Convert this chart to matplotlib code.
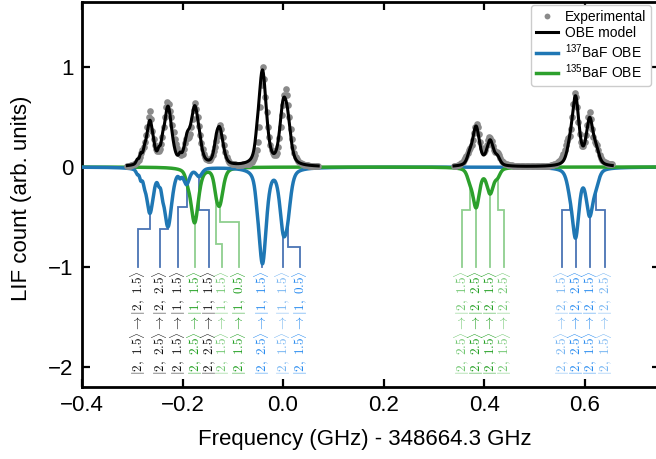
import numpy as np
import matplotlib
matplotlib.use("Agg")
import matplotlib.pyplot as plt
from matplotlib.lines import Line2D

plt.rcParams["font.family"] = ["Liberation Sans", "DejaVu Sans"]
plt.rcParams["mathtext.fontset"] = "custom"
plt.rcParams["mathtext.rm"] = "Liberation Sans"
plt.rcParams["mathtext.it"] = "Liberation Sans:italic"
plt.rcParams["mathtext.bf"] = "Liberation Sans:bold"

# ---------------------------------------------------------------------------
# Hyperfine transitions used in the OBE model (GHz offset, peak height, HWHM)
# ---------------------------------------------------------------------------
ba137_freq = [-0.290, -0.283, -0.276, -0.265, -0.247, -0.240, -0.229, -0.205,
              -0.192, -0.167, -0.052, -0.041, 0.000, 0.009,
              0.570, 0.582, 0.610, 0.623]
ba137_height = [0.04, 0.08, 0.06, 0.44, 0.07, 0.08, 0.58, 0.05,
                0.15, 0.08, 0.06, 0.95, 0.50, 0.35,
                0.12, 0.67, 0.45, 0.12]
ba137_hwhm = [0.003, 0.003, 0.003, 0.008, 0.003, 0.003, 0.009, 0.003,
              0.007, 0.007, 0.004, 0.009, 0.008, 0.008,
              0.007, 0.008, 0.008, 0.007]

ba135_freq = [-0.190, -0.176, -0.133, -0.126, 0.371, 0.384, 0.412, 0.427]
ba135_height = [0.06, 0.55, 0.10, 0.35, 0.08, 0.39, 0.25, 0.07]
ba135_hwhm = [0.005, 0.009, 0.005, 0.008, 0.006, 0.008, 0.008, 0.006]

# Frequency windows covered by the scans
scan_windows = [(-0.31, 0.07), (0.34, 0.655)]

# Measured LIF signal, two scans in 2.5 MHz steps
exp_freq_left = np.linspace(-0.310, 0.070, 153)
exp_signal_left = [
    0.01, 0.012, 0.015, 0.018, 0.02, 0.027, 0.035, 0.042, 0.05, 0.07,
    0.10, 0.14, 0.17, 0.20, 0.25, 0.32, 0.40, 0.50, 0.56, 0.48,
    0.36, 0.28, 0.22, 0.18, 0.16, 0.16, 0.18, 0.23, 0.30, 0.40,
    0.50, 0.60, 0.65, 0.63, 0.56, 0.50, 0.42, 0.35, 0.28, 0.23,
    0.19, 0.15, 0.13, 0.12, 0.13, 0.18, 0.24, 0.28, 0.29, 0.30,
    0.33, 0.40, 0.48, 0.57, 0.64, 0.58, 0.50, 0.41, 0.32, 0.24,
    0.18, 0.13, 0.10, 0.08, 0.07, 0.07, 0.07, 0.09, 0.12, 0.16,
    0.20, 0.26, 0.31, 0.37, 0.42, 0.38, 0.30, 0.22, 0.15, 0.10,
    0.07, 0.05, 0.04, 0.035, 0.03, 0.03, 0.03, 0.025, 0.025, 0.025,
    0.025, 0.025, 0.03, 0.03, 0.03, 0.03, 0.035, 0.035, 0.04, 0.05,
    0.07, 0.09, 0.12, 0.17, 0.25, 0.40, 0.60, 0.82, 1.00, 0.88,
    0.70, 0.55, 0.40, 0.30, 0.22, 0.17, 0.14, 0.12, 0.12, 0.14,
    0.20, 0.29, 0.40, 0.52, 0.62, 0.72, 0.78, 0.72, 0.62, 0.50,
    0.38, 0.28, 0.20, 0.14, 0.10, 0.08, 0.06, 0.05, 0.04, 0.035,
    0.03, 0.025, 0.02, 0.02, 0.02, 0.015, 0.015, 0.012, 0.01, 0.01,
    0.01, 0.01, 0.01,
]
exp_freq_right = np.linspace(0.340, 0.655, 127)
exp_signal_right = [
    0.01, 0.012, 0.015, 0.018, 0.02, 0.03, 0.04, 0.055, 0.07, 0.09,
    0.11, 0.14, 0.17, 0.19, 0.22, 0.27, 0.34, 0.40, 0.43, 0.40,
    0.33, 0.25, 0.19, 0.16, 0.15, 0.17, 0.22, 0.27, 0.30, 0.29,
    0.26, 0.21, 0.17, 0.15, 0.15, 0.14, 0.12, 0.09, 0.06, 0.05,
    0.04, 0.035, 0.03, 0.025, 0.02, 0.02, 0.02, 0.015, 0.015, 0.015,
    0.015, 0.015, 0.01, 0.01, 0.01, 0.01, 0.01, 0.01, 0.01, 0.01,
    0.01, 0.01, 0.01, 0.01, 0.01, 0.01, 0.01, 0.01, 0.01, 0.01,
    0.01, 0.01, 0.01, 0.012, 0.015, 0.015, 0.015, 0.018, 0.02, 0.025,
    0.03, 0.035, 0.04, 0.05, 0.06, 0.08, 0.10, 0.13, 0.17, 0.22,
    0.26, 0.29, 0.31, 0.38, 0.50, 0.63, 0.74, 0.70, 0.60, 0.45,
    0.33, 0.25, 0.21, 0.21, 0.25, 0.32, 0.42, 0.50, 0.55, 0.48,
    0.38, 0.30, 0.25, 0.23, 0.22, 0.17, 0.12, 0.09, 0.07, 0.06,
    0.05, 0.045, 0.04, 0.035, 0.03, 0.03, 0.03,
]

# Transition labels: text position, transition it points to, elbow height
label_freq = [-0.289, -0.244, -0.209, -0.176, -0.148, -0.121, -0.088, -0.041,
              0.000, 0.033, 0.356, 0.384, 0.412, 0.440, 0.555, 0.582, 0.611, 0.641]
line_freq = [-0.265, -0.229, -0.192, -0.176, -0.167, -0.133, -0.126, -0.041,
             0.000, 0.009, 0.371, 0.384, 0.412, 0.427, 0.570, 0.582, 0.610, 0.623]
elbow_y = [-0.62, -0.62, -0.40, None, -0.43, -0.77, -0.55, None,
           None, -0.80, -0.43, None, None, -0.43, -0.43, None, None, -0.43]
isotope = [137, 137, 137, 135, 137, 135, 135, 137,
           137, 137, 135, 135, 135, 135, 137, 137, 137, 137]
lower_state = [(2, 1.5), (2, 2.5), (2, 1.5), (2, 2.5), (2, 2.5), (2, 1.5), (2, 1.5), (2, 2.5),
               (2, 1.5), (2, 1.5), (2, 2.5), (2, 2.5), (2, 1.5), (2, 1.5),
               (2, 2.5), (2, 2.5), (2, 1.5), (2, 1.5)]
upper_state = [(2, 1.5), (2, 2.5), (1, 1.5), (1, 1.5), (1, 1.5), (1, 1.5), (1, 0.5), (1, 1.5),
               (1, 1.5), (1, 0.5), (2, 1.5), (2, 2.5), (2, 1.5), (2, 2.5),
               (2, 1.5), (2, 2.5), (2, 1.5), (2, 2.5)]
label_style = ["k", "k", "k", "g", "k", "lg", "g", "b",
               "lb", "b", "lg", "g", "g", "lg", "lb", "b", "b", "lb"]

styles = {
    "k": ("#111111", True),
    "g": ("#22a022", True),
    "lg": ("#74c874", False),
    "b": ("#2a8cf0", True),
    "lb": ("#78b6f2", False),
}
connector_color = {137: "#4a74b4", 135: "#8fcf8f"}

C137 = "#1f77b4"
C135 = "#2ca02c"
GREY = "#8a8a8a"

# ---------------------------------------------------------------------------
freq = np.linspace(-0.4, 0.75, 4601)


def spectrum(centers, heights, widths):
    total = np.zeros_like(freq)
    for f0, h, w in zip(centers, heights, widths):
        u = (freq - f0) / w
        total += h * (0.5 / (1 + u ** 2) + 0.5 * np.exp(-np.log(2) * u ** 2))
    return total


sig137 = spectrum(ba137_freq, ba137_height, ba137_hwhm)
sig135 = spectrum(ba135_freq, ba135_height, ba135_hwhm)
model = sig137 + sig135

fig = plt.figure(figsize=(6.56, 4.59), dpi=100)
ax = fig.add_axes([82 / 656, 72 / 459, 578 / 656, 385 / 459])

# experimental points and full model
for fx, sy in ((exp_freq_left, exp_signal_left), (exp_freq_right, exp_signal_right)):
    ax.plot(fx, sy, "o", color=GREY, ms=4.8, mec="none", zorder=4)
for lo, hi in scan_windows:
    m = (freq >= lo) & (freq <= hi)
    ax.plot(freq[m], model[m], color="k", lw=2.2, zorder=5)

# isotopologue contributions, drawn downwards
split = 0.062
left = freq <= split
right = freq >= split
ax.plot(freq[right], -sig137[right], color=C137, lw=2.5, zorder=2)
ax.plot(freq, -sig135, color=C135, lw=2.5, zorder=3)
ax.plot(freq[left], -sig137[left], color=C137, lw=2.5, zorder=3.5)

# transition assignments
conn_end = -1.0
label_top = -1.03
for lf, tf, ey, iso, lo_s, up_s, st in zip(label_freq, line_freq, elbow_y, isotope,
                                           lower_state, upper_state, label_style):
    curve = sig137 if iso == 137 else sig135
    y0 = -np.interp(tf, freq, curve)
    if ey is None:
        xs, ys = [tf, tf], [y0, conn_end]
    else:
        xs, ys = [tf, tf, lf, lf], [y0, ey, ey, conn_end]
    ax.plot(xs, ys, color=connector_color[iso], lw=1.3, zorder=1.5,
            solid_joinstyle="miter")

    color, bold = styles[st]
    ket_lo = rf"|{lo_s[0]},\ {lo_s[1]}\rangle"
    ket_up = rf"|{up_s[0]},\ {up_s[1]}\rangle"
    if bold:
        s = rf"$\mathbf{{{ket_lo}}} \rightarrow \mathbf{{{ket_up}}}$"
    else:
        s = rf"${ket_lo} \rightarrow {ket_up}$"
    ax.text(lf, label_top, s, rotation=90, ha="center", va="top", color=color,
            fontsize=9.5, math_fontfamily="cm")

ax.set_xlim(-0.4, 0.75)
ax.set_ylim(-2.2, 1.65)
ax.set_xticks([-0.4, -0.2, 0.0, 0.2, 0.4, 0.6])
ax.set_yticks([-2, -1, 0, 1])
ax.tick_params(direction="in", top=True, right=True, length=5.5, width=1.6,
               labelsize=16, pad=6)
for sp in ax.spines.values():
    sp.set_linewidth(2)

ax.set_xlabel("Frequency (GHz) - 348664.3 GHz", fontsize=16)
ax.set_ylabel("LIF count (arb. units)", fontsize=16)
ax.xaxis.set_label_coords(0.49, -0.108)
ax.yaxis.set_label_coords(-0.087, 0.49)

handles = [
    Line2D([], [], ls="none", marker="o", color=GREY, ms=4.2, mec="none"),
    Line2D([], [], color="k", lw=2.2),
    Line2D([], [], color=C137, lw=2.5),
    Line2D([], [], color=C135, lw=2.5),
]
labels = ["Experimental", "OBE model", r"$^{137}$BaF OBE", r"$^{135}$BaF OBE"]
ax.legend(handles, labels, loc="upper right", bbox_to_anchor=(651 / 656, 1 - 5 / 459),
          bbox_transform=fig.transFigure, borderaxespad=0, fontsize=10,
          labelspacing=0.15, handlelength=1.6, handletextpad=0.5, borderpad=0.35,
          framealpha=1, edgecolor="#cccccc")

fig.savefig("out.png", dpi=100)
